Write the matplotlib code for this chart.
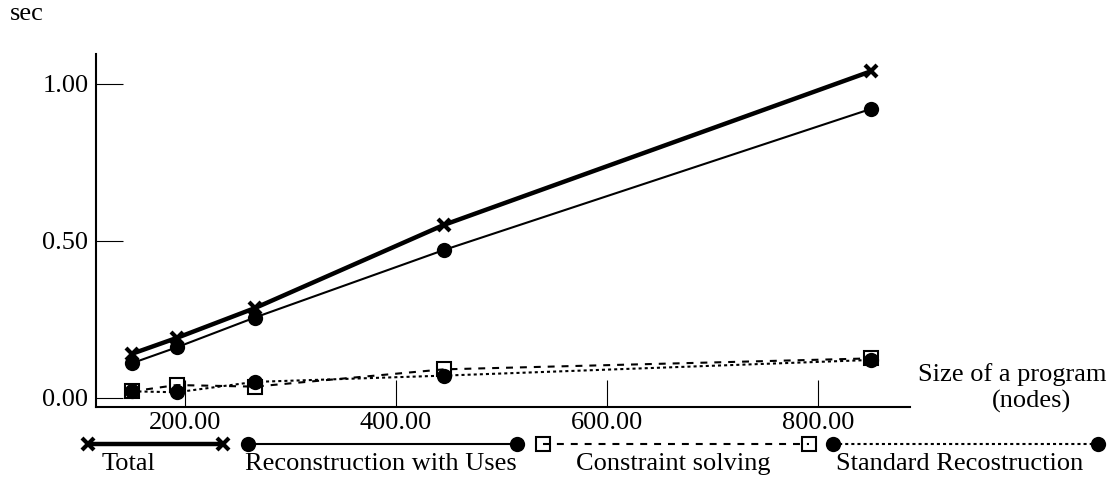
import matplotlib
matplotlib.use("Agg")
import matplotlib.pyplot as plt

plt.rcParams['font.family'] = ['Liberation Serif', 'DejaVu Serif']
plt.rcParams['lines.scale_dashes'] = False

# program size (nodes) and timings (sec)
sizes = [150, 192, 266, 445, 850]
total = [0.14, 0.19, 0.285, 0.55, 1.04]
recon_uses = [0.11, 0.16, 0.255, 0.47, 0.92]
constraint = [0.02, 0.04, 0.035, 0.09, 0.125]
standard = [0.02, 0.017, 0.05, 0.07, 0.12]

series_labels = ["Total", "Reconstruction with Uses", "Constraint solving", "Standard Recostruction"]
x_ticks = [200, 400, 600, 800]
y_ticks = [0.0, 0.5, 1.0]

FS = 19

styles = [
    dict(color="black", lw=3.2, ls="-", marker="x", ms=8, mew=3),
    dict(color="black", lw=1.5, ls="-", marker="o", ms=11, mew=0),
    dict(color="black", lw=1.5, ls=(0, (5, 5)), marker="s", ms=9.5, mew=1.5, mfc="none"),
    dict(color="black", lw=1.5, ls=(0, (2.2, 2.2)), marker="o", ms=11, mew=0),
]

fig = plt.figure(figsize=(11.14, 4.8), dpi=100)
ax = fig.add_axes([96 / 1114, 1 - 406.7 / 480, (910 - 96) / 1114, (406.7 - 54) / 480])

for vals, st in zip([total, recon_uses, constraint, standard], styles):
    ax.plot(sizes, vals, **st, clip_on=False)

ax.set_xlim(115.6, 887)
ax.set_ylim(-0.029, 1.095)
ax.set_xticks(x_ticks)
ax.set_xticklabels(["%.2f" % v for v in x_ticks])
ax.set_yticks(y_ticks)
ax.set_yticklabels(["%.2f" % v for v in y_ticks])
ax.tick_params(axis="both", direction="in", length=19.5, width=0.8, labelsize=FS)
ax.tick_params(axis="y", pad=5.5)
ax.tick_params(axis="x", pad=3.5)
for s in ["top", "right"]:
    ax.spines[s].set_visible(False)
for s in ["left", "bottom"]:
    ax.spines[s].set_linewidth(1.5)

# axis titles
fig.text(10 / 1114, 1 - 20 / 480, "sec", fontsize=FS, va="baseline", ha="left")
fig.text(918 / 1114, 1 - 381.5 / 480, "Size of a program", fontsize=FS, va="baseline", ha="left")
fig.text(992 / 1114, 1 - 408 / 480, "(nodes)", fontsize=FS, va="baseline", ha="left")

# legend strip along the bottom, in pixel coordinates
lg = fig.add_axes([0, 0, 1, 1])
lg.set_xlim(0, 1114)
lg.set_ylim(480, 0)
lg.axis("off")
key_spans = [(88, 223, 102), (248, 517, 245), (543, 809, 576), (833, 1098, 836)]
for (x0, x1, tx), label, st in zip(key_spans, series_labels, styles):
    lg.plot([x0, x1], [444, 444], **st)
    lg.text(tx, 470, label, fontsize=FS, va="baseline", ha="left")

fig.savefig("out.png", dpi=100)
